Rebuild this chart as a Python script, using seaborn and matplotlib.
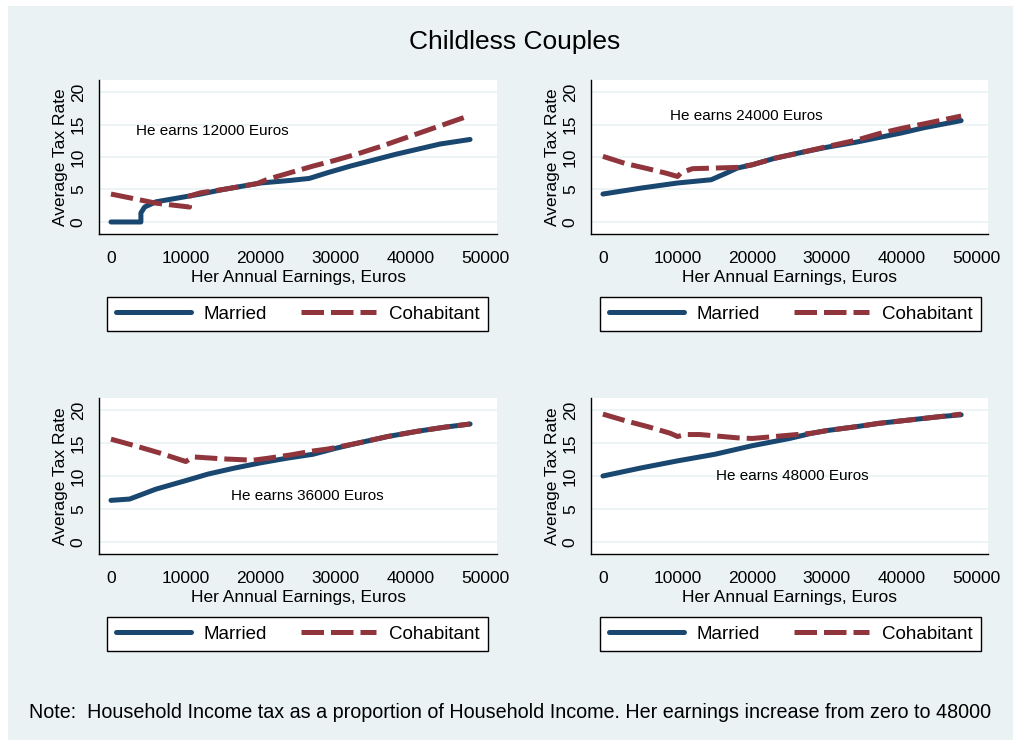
import matplotlib.pyplot as plt
import matplotlib.patches as patches
import numpy as np
import pandas as pd
import seaborn as sns

# He earns 12000 Euros
p1_married_x = [0, 2000, 4000, 4000, 4500, 6000, 8000, 10000, 12000, 15000, 18000, 20000,
                22000, 24000, 26500, 29000, 32000, 35000, 38000, 41000, 44000, 48000]
p1_married_y = [0, 0, 0, 1.4, 2.3, 3.1, 3.5, 3.9, 4.3, 5.0, 5.6, 6.0,
                6.2, 6.4, 6.7, 7.6, 8.6, 9.5, 10.4, 11.2, 12.0, 12.7]
p1_cohab_x = [0, 3000, 6000, 9000, 10500, 10500, 12000, 15000, 18000, 19500, 21000, 24000,
              27000, 30000, 33000, 36000, 39000, 42000, 45000, 48000]
p1_cohab_y = [4.3, 3.6, 2.9, 2.5, 2.3, 4.0, 4.5, 5.0, 5.6, 5.9, 6.6, 7.6,
              8.6, 9.5, 10.5, 11.6, 12.8, 14.0, 15.2, 16.4]

# He earns 24000 Euros
p2_married_x = [0, 5000, 10000, 14500, 16500, 18000, 20000, 23000, 27000, 30000, 34000,
                37000, 40000, 43000, 48000]
p2_married_y = [4.3, 5.2, 6.0, 6.5, 7.5, 8.3, 8.8, 9.8, 10.8, 11.5, 12.3,
                13.0, 13.7, 14.5, 15.6]
p2_cohab_x = [0, 3000, 6000, 8500, 10000, 10500, 12000, 15000, 18000, 20000, 23000, 27000,
              30000, 34000, 37000, 40000, 43000, 48000]
p2_cohab_y = [10.1, 9.0, 8.2, 7.5, 7.0, 7.6, 8.2, 8.3, 8.4, 8.8, 9.8, 10.8,
              11.6, 12.6, 13.6, 14.4, 15.1, 16.3]

# He earns 36000 Euros
p3_married_x = [0, 2500, 6000, 10000, 13000, 16500, 20000, 23500, 27000, 30000, 33000,
                37000, 41000, 44500, 48000]
p3_married_y = [6.3, 6.5, 8.0, 9.3, 10.3, 11.2, 12.0, 12.7, 13.3, 14.2, 15.0,
                16.0, 16.8, 17.4, 17.9]
p3_cohab_x = [0, 3500, 6500, 10000, 11000, 15000, 19000, 21000, 24000, 27000, 29000,
              33000, 37000, 41000, 44500, 48000]
p3_cohab_y = [15.6, 14.5, 13.5, 12.2, 12.9, 12.6, 12.4, 12.7, 13.2, 13.8, 14.1,
              15.0, 16.0, 16.8, 17.4, 17.9]

# He earns 48000 Euros
p4_married_x = [0, 5000, 10000, 15000, 20000, 25000, 28000, 30000, 34000, 37000, 41000,
                45000, 48000]
p4_married_y = [10.0, 11.2, 12.3, 13.3, 14.6, 15.7, 16.5, 16.9, 17.5, 18.0, 18.5,
                19.0, 19.3]
p4_cohab_x = [0, 3000, 6000, 9000, 10000, 11000, 13000, 16000, 18000, 20000, 23000,
              25000, 27000, 28000, 30000, 34000, 37000, 41000, 45000, 48000]
p4_cohab_y = [19.4, 18.4, 17.5, 16.5, 16.0, 16.3, 16.3, 16.0, 15.8, 15.7, 16.0,
              16.2, 16.4, 16.5, 16.9, 17.5, 18.0, 18.5, 19.0, 19.4]

panels = [
    ("He earns 12000 Euros", (13500, 14.0), p1_married_x, p1_married_y, p1_cohab_x, p1_cohab_y),
    ("He earns 24000 Euros", (19200, 16.3), p2_married_x, p2_married_y, p2_cohab_x, p2_cohab_y),
    ("He earns 36000 Euros", (26200, 6.9), p3_married_x, p3_married_y, p3_cohab_x, p3_cohab_y),
    ("He earns 48000 Euros", (25400, 10.0), p4_married_x, p4_married_y, p4_cohab_x, p4_cohab_y),
]

x_ticks = [0, 10000, 20000, 30000, 40000, 50000]
y_ticks = [0, 5, 10, 15, 20]

NAVY = "#1A476F"
MAROON = "#90353B"
BG = "#EAF2F3"

sns.set_style("white")
plt.rcParams["font.family"] = ["Liberation Sans", "DejaVu Sans"]
plt.rcParams["text.color"] = "black"
plt.rcParams["axes.labelcolor"] = "black"
plt.rcParams["xtick.color"] = "black"
plt.rcParams["ytick.color"] = "black"

W, H = 1013, 740
fig = plt.figure(figsize=(W / 100, H / 100), dpi=100, facecolor="white")
fig.patches.append(
    patches.Rectangle((8 / W, 0), 1 - 8 / W, 1 - 6 / H, transform=fig.transFigure,
                      facecolor=BG, edgecolor="none", zorder=-10)
)

# axes boxes in pixels: left, top, right, bottom
boxes = [(99, 80, 497, 234), (591, 80, 988, 234),
         (99, 398, 497, 554), (591, 398, 988, 554)]
legend_boxes = [(105, 297, 490), (599, 297, 982), (105, 617, 490), (599, 617, 982)]

for (label, (tx, ty), mx, my, cx, cy), (l, t, r, b), (ll, lt, lr) in zip(panels, boxes, legend_boxes):
    ax = fig.add_axes([l / W, 1 - b / H, (r - l) / W, (b - t) / H])
    ax.set_facecolor("white")
    for y in y_ticks:
        ax.axhline(y, color=BG, lw=1.2, zorder=0)

    sns.lineplot(x=mx, y=my, ax=ax, color=NAVY, lw=3.6, sort=False, estimator=None,
                 label="Married")
    sns.lineplot(x=cx, y=cy, ax=ax, color=MAROON, lw=3.6, sort=False, estimator=None,
                 linestyle=(0, (4.5, 1.4)), label="Cohabitant")

    ax.text(tx, ty, label, ha="center", va="center", fontsize=11)

    ax.set_xlim(-1600, 51600)
    ax.set_ylim(-1.85, 21.85)
    ax.set_xticks(x_ticks)
    ax.set_yticks(y_ticks)
    ax.set_xlabel("Her Annual Earnings, Euros", fontsize=12.5, labelpad=2.5)
    ax.set_ylabel("Average Tax Rate", fontsize=12.5, labelpad=2)
    ax.tick_params(axis="both", labelsize=12.5, length=4.5, width=1, color="black",
                   direction="out")
    ax.tick_params(axis="x", pad=8)
    ax.tick_params(axis="y", labelrotation=90, pad=5)
    for lab in ax.get_yticklabels():
        lab.set_va("center")
    for side in ["top", "right"]:
        ax.spines[side].set_visible(False)
    for side in ["left", "bottom"]:
        ax.spines[side].set_color("black")
        ax.spines[side].set_linewidth(1)

    ax.get_legend().remove()
    handles, labels = ax.get_legend_handles_labels()
    leg = fig.legend(handles, labels, loc="upper center",
                     bbox_to_anchor=((ll + lr) / 2 / W, 1 - lt / H),
                     ncol=2, fontsize=13.5, handlelength=4.0, handletextpad=0.7,
                     columnspacing=1.8, borderpad=0.45, borderaxespad=0,
                     frameon=True, fancybox=False)
    leg.get_frame().set_edgecolor("black")
    leg.get_frame().set_linewidth(1)
    leg.get_frame().set_facecolor("white")
    leg.get_frame().set_alpha(1)

fig.text(515 / W, 1 - 42 / H, "Childless Couples", ha="center", va="center", fontsize=19)
fig.text(29 / W, 1 - 713 / H,
         "Note:  Household Income tax as a proportion of Household Income. Her earnings increase from zero to 48000",
         ha="left", va="center", fontsize=14.2)

fig.savefig("out.png", dpi=100, facecolor=fig.get_facecolor())
